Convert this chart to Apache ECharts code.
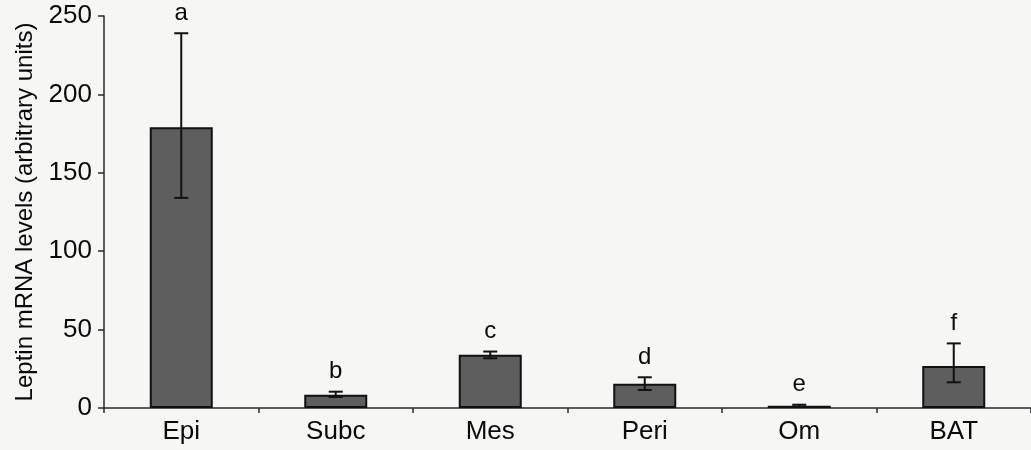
<!DOCTYPE html>
<html>
<head>
<meta charset="utf-8">
<script src="https://cdn.jsdelivr.net/npm/echarts@6/dist/echarts.min.js"></script>
<style>
html,body{margin:0;padding:0;background:#f6f6f5;}
#chart{width:1031px;height:450px;}
</style>
</head>
<body>
<div id="chart"></div>
<script>
const categories = ['Epi', 'Subc', 'Mes', 'Peri', 'Om', 'BAT'];
const values = [179, 8.5, 34, 15.5, 1.5, 26.8];
const errLow = [134, 7, 31.7, 11.5, 0.9, 16.4];
const errHigh = [239, 10.4, 36, 19.6, 2.1, 41.2];
const letters = ['a', 'b', 'c', 'd', 'e', 'f'];
const yTicks = [0, 50, 100, 150, 200, 250];

const font = '"Liberation Sans", Arial, sans-serif';
const chart = echarts.init(document.getElementById('chart'), null, {renderer: 'canvas'});

const errData = categories.map((c, i) => [i, errLow[i], errHigh[i], letters[i]]);

chart.setOption({
  backgroundColor: '#f6f6f5',
  animation: false,
  grid: {left: 104, top: 16, bottom: 42, width: 933, containLabel: false},
  xAxis: {
    type: 'category',
    data: categories,
    axisLine: {lineStyle: {color: '#2a2a2a', width: 1.5}},
    axisTick: {show: true, length: 5, lineStyle: {color: '#2a2a2a', width: 1.5}},
    axisLabel: {color: '#0a0a0a', fontSize: 26, fontFamily: font, margin: 11},
    splitLine: {show: false}
  },
  yAxis: {
    type: 'value',
    min: yTicks[0],
    max: yTicks[yTicks.length - 1],
    interval: 50,
    name: 'Leptin mRNA levels (arbitrary units)',
    nameLocation: 'middle',
    nameGap: 63,
    nameTextStyle: {color: '#0a0a0a', fontSize: 24, fontFamily: font},
    axisLine: {show: true, lineStyle: {color: '#2a2a2a', width: 1.5}},
    axisTick: {show: true, length: 6, lineStyle: {color: '#2a2a2a', width: 1.5}},
    axisLabel: {color: '#0a0a0a', fontSize: 26, fontFamily: font, margin: 12},
    splitLine: {show: false}
  },
  series: [
    {
      type: 'bar',
      data: values,
      barWidth: 63,
      itemStyle: {color: '#5e5e5e', borderColor: '#111', borderWidth: 2}
    },
    {
      type: 'custom',
      data: errData,
      z: 10,
      renderItem: function (params, api) {
        const i = api.value(0);
        const lo = api.coord([i, api.value(1)]);
        const hi = api.coord([i, api.value(2)]);
        const x = lo[0];
        const hw = 7;
        const style = {stroke: '#111', lineWidth: 2};
        return {
          type: 'group',
          children: [
            {type: 'line', shape: {x1: x, y1: lo[1], x2: x, y2: hi[1]}, style: style},
            {type: 'line', shape: {x1: x - hw, y1: lo[1], x2: x + hw, y2: lo[1]}, style: style},
            {type: 'line', shape: {x1: x - hw, y1: hi[1], x2: x + hw, y2: hi[1]}, style: style},
            {type: 'text', style: {text: letters[i], x: x, y: hi[1] - 8, textAlign: 'center', textVerticalAlign: 'bottom', fill: '#0a0a0a', fontSize: 24, fontFamily: font}}
          ]
        };
      }
    }
  ]
});
</script>
</body>
</html>
